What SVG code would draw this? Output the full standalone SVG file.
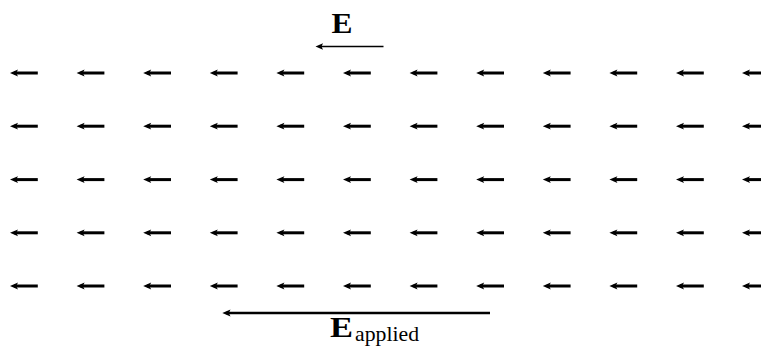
<svg xmlns="http://www.w3.org/2000/svg" xmlns:xlink="http://www.w3.org/1999/xlink" width="761" height="346" viewBox="0 0 761 346">
<style>
.bg{fill:#ffffff}
.ln{stroke:#000;fill:none;stroke-linecap:butt}
.hd{fill:#000;stroke:none}
.lbl{font-family:"Liberation Serif","DejaVu Serif",serif;fill:#000}
</style>
<defs>
<g id="dip">
<path class="ln" d="M4,0 H27.8" stroke-width="3"/>
<path class="hd" d="M0,0 L8,-3.4 L6.2,0 L8,3.4 Z"/>
</g>
</defs>
<rect class="bg" x="0" y="0" width="761" height="346"/>
<g id="field-label">
<text class="lbl" x="331.5" y="33.3" font-size="30" font-weight="bold" textLength="21" lengthAdjust="spacingAndGlyphs">E</text>
</g>
<g id="field-arrow">
<path class="ln" d="M319,46.5 H383.5" stroke-width="1.4"/>
<path class="hd" d="M315.5,46.5 L323,43.3 L321.5,46.5 L323,49.7 Z"/>
</g>
<g id="dipoles">
<g id="row1" transform="translate(0,73)">
<use xlink:href="#dip" x="10"/><use xlink:href="#dip" x="76.6"/><use xlink:href="#dip" x="143.2"/><use xlink:href="#dip" x="209.8"/><use xlink:href="#dip" x="276.4"/><use xlink:href="#dip" x="343"/><use xlink:href="#dip" x="409.6"/><use xlink:href="#dip" x="476.2"/><use xlink:href="#dip" x="542.8"/><use xlink:href="#dip" x="609.4"/><use xlink:href="#dip" x="676"/><use xlink:href="#dip" x="742"/>
</g>
<g id="row2" transform="translate(0,126.2)">
<use xlink:href="#dip" x="10"/><use xlink:href="#dip" x="76.6"/><use xlink:href="#dip" x="143.2"/><use xlink:href="#dip" x="209.8"/><use xlink:href="#dip" x="276.4"/><use xlink:href="#dip" x="343"/><use xlink:href="#dip" x="409.6"/><use xlink:href="#dip" x="476.2"/><use xlink:href="#dip" x="542.8"/><use xlink:href="#dip" x="609.4"/><use xlink:href="#dip" x="676"/><use xlink:href="#dip" x="742"/>
</g>
<g id="row3" transform="translate(0,179.6)">
<use xlink:href="#dip" x="10"/><use xlink:href="#dip" x="76.6"/><use xlink:href="#dip" x="143.2"/><use xlink:href="#dip" x="209.8"/><use xlink:href="#dip" x="276.4"/><use xlink:href="#dip" x="343"/><use xlink:href="#dip" x="409.6"/><use xlink:href="#dip" x="476.2"/><use xlink:href="#dip" x="542.8"/><use xlink:href="#dip" x="609.4"/><use xlink:href="#dip" x="676"/><use xlink:href="#dip" x="742"/>
</g>
<g id="row4" transform="translate(0,232.8)">
<use xlink:href="#dip" x="10"/><use xlink:href="#dip" x="76.6"/><use xlink:href="#dip" x="143.2"/><use xlink:href="#dip" x="209.8"/><use xlink:href="#dip" x="276.4"/><use xlink:href="#dip" x="343"/><use xlink:href="#dip" x="409.6"/><use xlink:href="#dip" x="476.2"/><use xlink:href="#dip" x="542.8"/><use xlink:href="#dip" x="609.4"/><use xlink:href="#dip" x="676"/><use xlink:href="#dip" x="742"/>
</g>
<g id="row5" transform="translate(0,286)">
<use xlink:href="#dip" x="10"/><use xlink:href="#dip" x="76.6"/><use xlink:href="#dip" x="143.2"/><use xlink:href="#dip" x="209.8"/><use xlink:href="#dip" x="276.4"/><use xlink:href="#dip" x="343"/><use xlink:href="#dip" x="409.6"/><use xlink:href="#dip" x="476.2"/><use xlink:href="#dip" x="542.8"/><use xlink:href="#dip" x="609.4"/><use xlink:href="#dip" x="676"/><use xlink:href="#dip" x="742"/>
</g>
</g>
<g id="applied-arrow">
<path class="ln" d="M226,313 H490" stroke-width="2.6"/>
<path class="hd" d="M222.3,313 L230.5,309.6 L228.8,313 L230.5,316.4 Z"/>
</g>
<g id="applied-label">
<text class="lbl" x="330" y="336.5" font-size="30" font-weight="bold" textLength="23" lengthAdjust="spacingAndGlyphs">E</text>
<text class="lbl" x="355" y="340.5" font-size="21" textLength="64" lengthAdjust="spacingAndGlyphs">applied</text>
</g>
</svg>
